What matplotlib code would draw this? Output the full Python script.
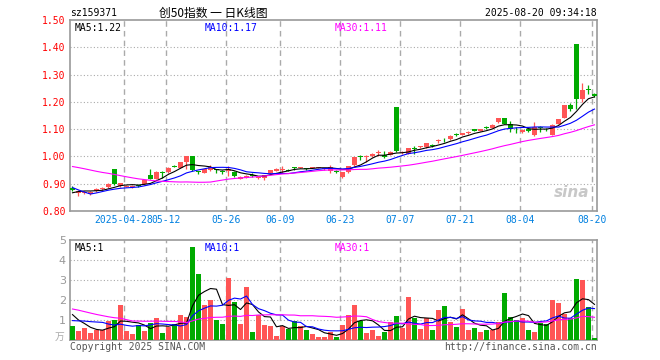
import numpy as np
import pandas as pd
import matplotlib
matplotlib.use('Agg')
import matplotlib.pyplot as plt

plt.rcParams['font.family'] = ['DejaVu Sans Mono', 'Noto Sans CJK SC']

# daily bars 2025-04-15 .. 2025-08-20
opens = [0.886, 0.867, 0.865, 0.864, 0.872, 0.879, 0.888, 0.953, 0.891, 0.889,
         0.889, 0.893, 0.898, 0.931, 0.918, 0.943, 0.943, 0.966, 0.959, 0.978,
         1.000, 0.946, 0.941, 0.950, 0.952, 0.947, 0.948, 0.943, 0.918, 0.922,
         0.931, 0.920, 0.920, 0.938, 0.948, 0.950, 0.950, 0.959, 0.959, 0.956,
         0.957, 0.957, 0.953, 0.945, 0.948, 0.923, 0.942, 0.967, 0.999, 0.999,
         1.000, 1.014, 1.006, 1.007, 1.180, 1.014, 1.010, 1.031, 1.034, 1.033,
         1.043, 1.056, 1.061, 1.063, 1.081, 1.078, 1.086, 1.100, 1.095, 1.106,
         1.105, 1.125, 1.140, 1.120, 1.101, 1.088, 1.100, 1.080, 1.106, 1.101,
         1.080, 1.120, 1.141, 1.187, 1.413, 1.209, 1.247, 1.230]
closes = [0.878, 0.873, 0.870, 0.870, 0.881, 0.886, 0.899, 0.898, 0.901, 0.893,
          0.892, 0.891, 0.912, 0.918, 0.943, 0.941, 0.959, 0.962, 0.978, 1.000,
          0.951, 0.942, 0.953, 0.962, 0.950, 0.944, 0.953, 0.928, 0.925, 0.930,
          0.928, 0.926, 0.931, 0.950, 0.955, 0.952, 0.948, 0.957, 0.961, 0.954,
          0.960, 0.960, 0.957, 0.960, 0.942, 0.942, 0.964, 0.998, 0.997, 1.001,
          1.010, 1.016, 0.998, 1.018, 1.020, 1.016, 1.030, 1.029, 1.036, 1.048,
          1.038, 1.058, 1.059, 1.075, 1.079, 1.085, 1.088, 1.095, 1.100, 1.104,
          1.117, 1.140, 1.120, 1.100, 1.099, 1.098, 1.092, 1.108, 1.104, 1.099,
          1.117, 1.138, 1.187, 1.174, 1.209, 1.245, 1.243, 1.220]
highs = [0.890, 0.876, 0.874, 0.873, 0.883, 0.888, 0.901, 0.955, 0.903, 0.896,
         0.895, 0.896, 0.914, 0.953, 0.945, 0.945, 0.960, 0.970, 0.980, 1.000,
         1.000, 0.948, 0.955, 0.970, 0.955, 0.950, 0.966, 0.945, 0.927, 0.932,
         0.940, 0.928, 0.933, 0.952, 0.957, 0.966, 0.955, 0.963, 0.963, 0.958,
         0.961, 0.961, 0.958, 0.970, 0.949, 0.944, 0.965, 0.999, 1.006, 1.004,
         1.011, 1.025, 1.020, 1.019, 1.180, 1.020, 1.031, 1.040, 1.038, 1.050,
         1.045, 1.065, 1.068, 1.077, 1.085, 1.086, 1.092, 1.102, 1.101, 1.110,
         1.118, 1.141, 1.141, 1.129, 1.108, 1.099, 1.101, 1.125, 1.113, 1.105,
         1.118, 1.139, 1.188, 1.197, 1.413, 1.270, 1.260, 1.231]
lows = [0.872, 0.854, 0.861, 0.860, 0.870, 0.877, 0.886, 0.897, 0.889, 0.887,
        0.886, 0.889, 0.897, 0.916, 0.917, 0.920, 0.941, 0.960, 0.956, 0.955,
        0.948, 0.935, 0.938, 0.948, 0.940, 0.935, 0.928, 0.925, 0.916, 0.920,
        0.926, 0.918, 0.913, 0.936, 0.946, 0.940, 0.945, 0.952, 0.957, 0.952,
        0.956, 0.956, 0.952, 0.940, 0.941, 0.920, 0.940, 0.965, 0.988, 0.980,
        0.999, 1.003, 0.993, 1.006, 1.018, 1.010, 1.008, 1.010, 1.030, 1.031,
        1.036, 1.050, 1.052, 1.061, 1.074, 1.077, 1.082, 1.093, 1.094, 1.100,
        1.104, 1.124, 1.119, 1.090, 1.085, 1.087, 1.090, 1.075, 1.090, 1.095,
        1.079, 1.119, 1.140, 1.165, 1.175, 1.199, 1.230, 1.219]
volumes = [0.70, 0.45, 0.62, 0.35, 0.52, 0.52, 0.95, 1.00, 1.75, 0.45,
           0.30, 0.77, 0.45, 0.87, 1.10, 0.35, 0.67, 0.80, 1.25, 1.17,
           4.65, 3.30, 1.75, 2.00, 1.00, 0.80, 3.10, 1.92, 0.80, 2.65,
           0.40, 1.25, 0.75, 0.70, 0.20, 0.70, 0.55, 0.95, 0.70, 0.50,
           0.30, 0.15, 0.15, 0.40, 0.17, 0.75, 1.25, 1.75, 0.95, 0.35,
           0.50, 0.20, 0.40, 0.90, 1.20, 0.60, 2.15, 1.10, 0.55, 1.10,
           0.50, 1.50, 1.70, 0.90, 0.65, 1.55, 0.50, 0.60, 0.40, 0.50,
           0.50, 0.90, 2.35, 1.15, 1.00, 1.10, 0.50, 0.40, 0.85, 0.80,
           2.00, 1.85, 1.30, 1.10, 3.05, 3.00, 1.65, 0.10]

# sessions before the window, only used to warm up the moving averages
prev_closes = [0.99, 1.00, 1.01, 1.02, 1.01, 1.00, 1.02, 1.03, 1.02, 1.01,
               1.00, 0.99, 1.00, 1.01, 0.99, 0.98, 0.99, 1.00, 0.99, 0.97,
               0.96, 0.95, 0.94, 0.84, 0.835, 0.85, 0.86, 0.87, 0.876]
prev_volumes = [2.2, 2.8, 2.5, 2.6, 2.3, 2.7, 2.4, 2.5, 2.6, 2.3,
                0.9, 0.7, 0.8, 0.85, 0.75, 0.8, 0.81, 2.0, 2.3, 1.98,
                0.6, 0.7, 0.65, 0.7, 0.7, 1.8, 1.5, 1.3, 1.05]

tick_idx = [9, 16, 26, 35, 45, 55, 65, 75, 87]
tick_labels = ['2025-04-28', '05-12', '05-26', '06-09', '06-23', '07-07', '07-21', '08-04', '08-20']

RED = '#FF5555'
GREEN = '#00AA00'
GRID = '#AAAAAA'
n = len(closes)
x = np.arange(n)
o = np.array(opens); c = np.array(closes); h = np.array(highs); l = np.array(lows)
v = np.array(volumes)
up = c >= o
cols = np.where(up, RED, GREEN)

allc = pd.Series(prev_closes + closes)
allv = pd.Series(prev_volumes + volumes)
k = len(prev_closes)
ma = {p: allc.rolling(p).mean().values[k:] for p in (5, 10, 30)}
vma = {p: allv.rolling(p).mean().values[k:] for p in (5, 10, 30)}
ma_cols = {5: 'black', 10: '#0000FF', 30: '#FF00FF'}

W, H = 660, 360
fig = plt.figure(figsize=(6.6, 3.6), dpi=100)
ax = fig.add_axes([70 / W, 1 - 211 / H, 527 / W, 191 / H])
axv = fig.add_axes([70 / W, 1 - 340 / H, 527 / W, 100 / H])

xl = (-2.5 / 6, 87.42)
ticks = [t - 0.42 for t in tick_idx]

# ---- price panel
for t in ticks:
    ax.axvline(t, color=GRID, lw=1, ls=(0, (4, 3)), zorder=0)
for yy in [0.9, 1.0, 1.1, 1.2, 1.3, 1.4]:
    ax.axhline(yy, color=GRID, lw=0.8, ls=(0, (1, 2)), zorder=0)
ax.vlines(x, l, h, colors=cols, lw=0.9, zorder=2)
body = np.maximum(np.abs(c - o), 0.003)
ax.bar(x, body, bottom=np.minimum(o, c), width=0.8, color=cols, zorder=3)
for p in (5, 10, 30):
    ax.plot(x, ma[p], color=ma_cols[p], lw=0.8, zorder=4)
ax.set_xlim(*xl)
ax.set_ylim(0.80, 1.50)
ax.set_yticks(np.arange(0.80, 1.501, 0.10))
ax.set_yticklabels(['%.2f' % t for t in np.arange(0.80, 1.501, 0.10)], color='red', fontsize=7)
ax.set_xticks(ticks)
ax.set_xticklabels(tick_labels, color='#0080E0', fontsize=7)
ax.tick_params(length=0, pad=3)
for s in ax.spines.values():
    s.set_color('#999999'); s.set_linewidth(1.2)

ax.text(5 / 527, 0.985, 'MA5:1.22', transform=ax.transAxes, fontsize=7, color='black', va='top')
ax.text(135 / 527, 0.985, 'MA10:1.17', transform=ax.transAxes, fontsize=7, color='#0000FF', va='top')
ax.text(265 / 527, 0.985, 'MA30:1.11', transform=ax.transAxes, fontsize=7, color='#FF00FF', va='top')
ax.text(0.985, 0.06, 'sina', transform=ax.transAxes, fontsize=11, color='#C8C8C8',
        fontweight='bold', style='italic', ha='right', va='bottom', family='DejaVu Sans')

# ---- volume panel
for t in ticks:
    axv.axvline(t, color=GRID, lw=1, ls=(0, (4, 3)), zorder=0)
for yy in [1, 2, 3, 4]:
    axv.axhline(yy, color=GRID, lw=0.8, ls=(0, (1, 2)), zorder=0)
axv.bar(x, v, width=0.8, color=cols, zorder=3)
for p in (5, 10, 30):
    axv.plot(x, vma[p], color=ma_cols[p], lw=0.8, zorder=4)
axv.set_xlim(*xl)
axv.set_ylim(0, 5)
axv.set_yticks([1, 2, 3, 4, 5])
axv.set_yticklabels(['1', '2', '3', '4', '5'], color='#999999', fontsize=8, family='DejaVu Sans')
axv.set_xticks([])
axv.tick_params(length=0, pad=3)
for s in axv.spines.values():
    s.set_color('#999999'); s.set_linewidth(1.2)
axv.text(5 / 527, 0.97, 'MA5:1', transform=axv.transAxes, fontsize=7, color='black', va='top')
axv.text(135 / 527, 0.97, 'MA10:1', transform=axv.transAxes, fontsize=7, color='#0000FF', va='top')
axv.text(265 / 527, 0.97, 'MA30:1', transform=axv.transAxes, fontsize=7, color='#FF00FF', va='top')

# ---- header / footer
fig.text(70 / W, 1 - 13 / H, 'sz159371', fontsize=7, color='black', va='center')
fig.text(213 / W, 1 - 13 / H, '创50指数 一 日K线图', fontsize=8.5, color='black', va='center', ha='center',
         family=['Noto Sans CJK SC', 'DejaVu Sans'])
fig.text(597 / W, 1 - 13 / H, '2025-08-20 09:34:18', fontsize=7, color='black', va='center', ha='right')
fig.text(64 / W, 1 - 337 / H, '万', fontsize=7, color='#AAAAAA', va='center', ha='right',
         family=['Noto Sans CJK SC', 'DejaVu Sans'])
fig.text(70 / W, 1 - 347 / H, 'Copyright 2025 SINA.COM', fontsize=7, color='#555555', va='center')
fig.text(597 / W, 1 - 347 / H, 'http://finance.sina.com.cn', fontsize=7, color='#555555', va='center', ha='right')

fig.savefig('out.png', dpi=100)
